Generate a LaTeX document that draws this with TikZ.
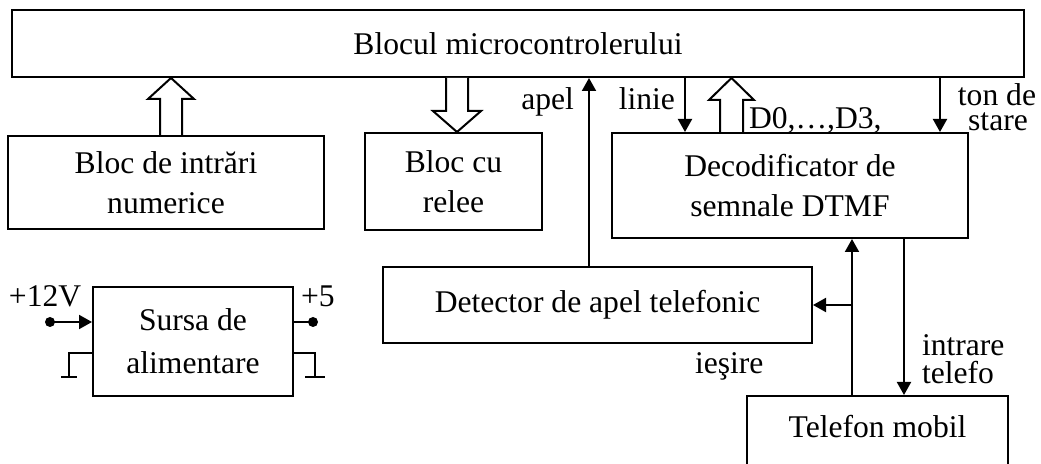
\documentclass[tikz,border=0pt]{standalone}
\usepackage{fontspec}
\setmainfont{Liberation Serif}
\usetikzlibrary{arrows.meta}
\begin{document}
\begin{tikzpicture}[x=0.5pt,y=-0.5pt, line width=1pt,
  box/.style={draw, rectangle, inner sep=0pt, align=center, font=\fontsize{15.8}{20}\selectfont},
  lbl/.style={inner sep=0pt, font=\fontsize{15.8}{20}\selectfont},
  hollow/.style={draw, fill=white, line join=miter},
  >={Triangle[length=6.5pt,width=7pt]}]
\useasboundingbox (0,0) rectangle (1041,464);
\clip (0,0) rectangle (1041,464);
% boxes
\node[box, minimum width=506pt, minimum height=33.5pt] (mc) at (518,43.5) {Blocul microcontrolerului};
\node[box, minimum width=158pt, minimum height=46.5pt] (intr) at (166,182.5) {Bloc de intrări\\numerice};
\node[box, minimum width=88.5pt, minimum height=48.5pt] (rel) at (453.5,181.5) {Bloc cu\\relee};
\node[box, minimum width=178pt, minimum height=52.5pt] (dec) at (790,185.5) {Decodificator de\\semnale DTMF};
\node[box, minimum width=214.5pt, minimum height=38pt] (det) at (597.5,305) {Detector de apel telefonic};
\node[box, minimum width=100pt, minimum height=54.5pt, font=\fontsize{15.8}{21.5}\selectfont] (src) at (193,341.5) {Sursa de\\alimentare};
\node[draw, rectangle, inner sep=0pt, minimum width=130.5pt, minimum height=45pt] (tel) at (877.5,441) {};
\node[lbl] (teltxt) at (877.5,427) {Telefon mobil};
% hollow arrows
\draw[hollow] (160,0 |- intr.north) -- (160,99) -- (148,99) -- (171,0 |- mc.south) -- (194,99) -- (182,99) -- (182,0 |- intr.north);
\draw[hollow] (446,0 |- mc.south) -- (446,111) -- (433,111) -- (457,0 |- rel.north) -- (481,111) -- (468,111) -- (468,0 |- mc.south);
\draw[hollow] (720,0 |- dec.north) -- (720,100) -- (709,100) -- (731.5,0 |- mc.south) -- (754,100) -- (743,100) -- (743,0 |- dec.north);
% signal connectors
\draw[->] (589,0 |- det.north) -- (589,0 |- mc.south);
\node[lbl, anchor=base east] (lapel) at (575,110) {apel};
\draw[->] (685,0 |- mc.south) -- (685,0 |- dec.north);
\node[lbl, anchor=base east] (llinie) at (676,110) {linie};
\node[lbl, anchor=base west] (ldata) at (748,129) {D0,…,D3,};
\draw[->] (940,0 |- mc.south) -- (940,0 |- dec.north);
\node[lbl, anchor=base] (lton) at (997,106) {ton de};
\node[lbl, anchor=base] (lstare) at (998,131) {stare};
\draw[->] (852,0 |- tel.north) -- (852,0 |- dec.south);
\draw[->] (852,0 |- det.east) -- (det.east);
\draw[->] (904,0 |- dec.south) -- (904,0 |- tel.north);
\node[lbl, anchor=base west] (lintr) at (921,356) {intrare};
\node[lbl, anchor=base west] (ltel) at (921,384) {telefo};
\node[lbl, anchor=base west] (lies) at (694,374) {ieşire};
% power supply
\coordinate (in12) at (50,322);
\coordinate (out5) at (313,322);
\draw[->] (in12) -- (in12 -| src.west);
\fill (in12) circle (2.5pt);
\draw (out5 -| src.east) -- (out5);
\fill (out5) circle (2.5pt);
\node[lbl, anchor=base west] (l12) at (8,307) {+12V};
\node[lbl, anchor=base west] (l5) at (300,307) {+5};
\coordinate (gl) at (69,377);
\coordinate (gr) at (315,377);
\draw (src.west |- 0,353) -- (69,353) -- (gl);
\draw (61,377) -- (77,377);
\draw (src.east |- 0,353) -- (315,353) -- (gr);
\draw (305,377) -- (325,377);
\end{tikzpicture}
\end{document}
